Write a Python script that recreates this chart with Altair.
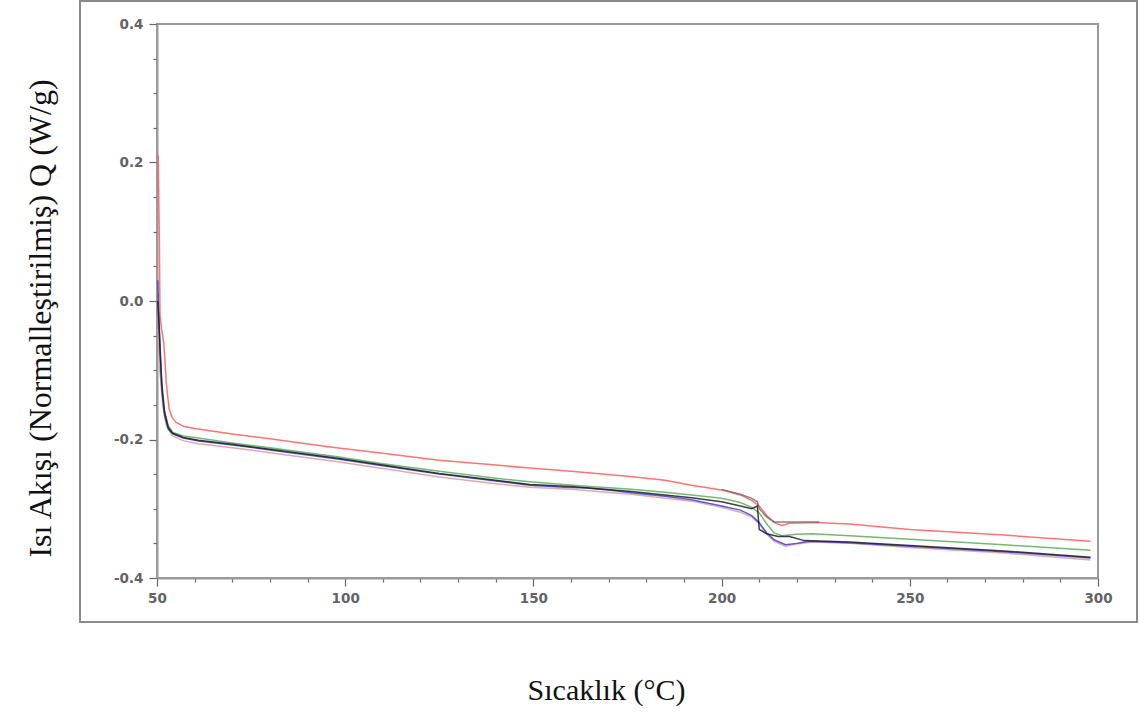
import altair as alt
import pandas as pd

# ---- data (Temperature °C, heat flow W/g) ----
red_x = [50.3, 50.6, 50.8, 51.2, 51.8, 52.5, 53.2, 54, 55, 57, 60, 70, 80, 96, 110, 125, 140, 149, 160, 175, 185, 192, 200, 205, 208, 210, 212, 214, 216, 218, 225, 234, 250, 275, 298]
red_y = [0.21, 0.10, -0.02, -0.04, -0.06, -0.12, -0.155, -0.168, -0.175, -0.181, -0.184, -0.192, -0.199, -0.211, -0.220, -0.230, -0.237, -0.241, -0.246, -0.253, -0.259, -0.266, -0.273, -0.280, -0.288, -0.296, -0.310, -0.320, -0.324, -0.321, -0.320, -0.322, -0.330, -0.338, -0.347]

green_x = [50.2, 50.5, 50.8, 51.3, 52, 53, 54.2, 57, 61, 70, 80, 98, 110, 125, 140, 149, 158, 165, 176, 185, 192, 200, 205, 208, 210, 212, 214, 216, 220, 224, 234, 250, 275, 298]
green_y = [0.01, -0.04, -0.096, -0.13, -0.159, -0.18, -0.19, -0.195, -0.198, -0.205, -0.212, -0.225, -0.235, -0.246, -0.256, -0.261, -0.265, -0.268, -0.272, -0.276, -0.280, -0.285, -0.291, -0.298, -0.306, -0.322, -0.335, -0.339, -0.337, -0.336, -0.339, -0.344, -0.352, -0.360]

blue_x = [50.2, 50.4, 50.7, 51.3, 52, 53, 54.2, 57, 61, 70, 80, 98, 110, 125, 140, 149, 155, 158, 164, 170, 176, 185, 192, 200, 205, 208, 210, 212, 214, 217, 220, 223, 234, 250, 275, 298]
blue_y = [0.03, -0.01, -0.05, -0.13, -0.165, -0.185, -0.192, -0.198, -0.202, -0.208, -0.215, -0.228, -0.238, -0.250, -0.260, -0.266, -0.268, -0.269, -0.270, -0.273, -0.277, -0.282, -0.287, -0.296, -0.302, -0.310, -0.320, -0.335, -0.345, -0.352, -0.350, -0.347, -0.349, -0.354, -0.362, -0.371]

pink_x = [50.3, 50.8, 51.5, 52.5, 54, 57, 61, 70, 80, 98, 110, 125, 140, 149, 160, 176, 192, 200, 205, 208, 210, 212, 214, 217, 220, 224, 234, 250, 275, 298]
pink_y = [-0.04, -0.10, -0.15, -0.18, -0.194, -0.202, -0.206, -0.212, -0.219, -0.232, -0.242, -0.254, -0.264, -0.269, -0.272, -0.279, -0.289, -0.298, -0.305, -0.312, -0.322, -0.337, -0.347, -0.354, -0.351, -0.348, -0.350, -0.356, -0.364, -0.374]

black_x = [50.2, 50.5, 50.8, 51.3, 52, 53, 54.2, 57, 61, 70, 80, 98, 125, 149, 160, 176, 192, 200, 205, 208, 209.5, 210, 212, 215, 218, 222, 234, 250, 275, 298]
black_y = [0.0, -0.03, -0.07, -0.12, -0.16, -0.183, -0.191, -0.197, -0.201, -0.207, -0.214, -0.227, -0.249, -0.265, -0.268, -0.275, -0.284, -0.290, -0.296, -0.300, -0.296, -0.330, -0.336, -0.340, -0.340, -0.346, -0.348, -0.353, -0.361, -0.370]

gray_x = [200, 205, 208, 209.5, 210, 212, 214, 220, 226]
gray_y = [-0.272, -0.279, -0.285, -0.290, -0.300, -0.312, -0.319, -0.319, -0.319]

x_major = [50, 100, 150, 200, 250, 300]
x_minor = [60, 70, 80, 90, 110, 120, 130, 140, 160, 170, 180, 190, 210, 220, 230, 240, 260, 270, 280, 290]
y_major = [-0.4, -0.2, 0.0, 0.2, 0.4]
y_minor = [-0.35, -0.3, -0.25, -0.15, -0.1, -0.05, 0.05, 0.1, 0.15, 0.25, 0.3, 0.35]

x_title = "Sıcaklık (°C)"
y_title = "Isı Akışı (Normalleştirilmiş) Q (W/g)"

series = [
    ("red", red_x, red_y, "#ff5a5a"),
    ("green", green_x, green_y, "#5aad5a"),
    ("pink", pink_x, pink_y, "#d99c9c"),
    ("blue", blue_x, blue_y, "#3c3cdc"),
    ("black", black_x, black_y, "#1e1e1e"),
    ("gray", gray_x, gray_y, "#707070"),
]

W, H = 941, 554
xs = alt.Scale(domain=[50, 300], nice=False, zero=False)
ys = alt.Scale(domain=[-0.4, 0.4], nice=False, zero=False)

lab = dict(labelFont="DejaVu Sans", labelFontWeight="bold", labelFontSize=13.5,
           labelColor="#636363", labelFlush=False, labelOverlap=False,
           domainColor="#9a9a9a", domainWidth=2,
           tickColor="#666666", tickWidth=1.2, grid=False)

x_axis = alt.Axis(values=x_major, format="d", tickSize=8, labelPadding=5, orient="bottom",
                  title=x_title, titleFont="Liberation Serif", titleFontSize=30,
                  titleFontWeight="normal", titleColor="#111111",
                  titleX=449, titleY=112, titleAlign="center", titleBaseline="middle", **lab)
y_axis = alt.Axis(values=y_major, tickSize=8, labelPadding=6, orient="left",
                  labelExpr="replace(format(datum.value, '.1f'), '\u2212', '-')",
                  title=y_title, titleFont="Liberation Serif", titleFontSize=32,
                  titleFontWeight="normal", titleColor="#111111", titleAngle=270,
                  titleX=-117, titleY=294, titleAlign="center", titleBaseline="middle", **lab)

x_minor_axis = alt.Axis(values=x_minor, labels=False, tickSize=4, domain=False, title=None,
                        orient="bottom", tickColor="#666666", tickWidth=1.2, grid=False)
y_minor_axis = alt.Axis(values=y_minor, labels=False, tickSize=4, domain=False, title=None,
                        orient="left", tickColor="#666666", tickWidth=1.2, grid=False)

layers = []
for i, (name, xv, yv, col) in enumerate(series):
    df = pd.DataFrame({"T": xv, "Q": yv})
    ax = x_axis if i == 0 else None
    ay = y_axis if i == 0 else None
    layers.append(
        alt.Chart(df).mark_line(strokeWidth=1.5, opacity=0.85).encode(
            x=alt.X("T:Q", scale=xs, axis=ax),
            y=alt.Y("Q:Q", scale=ys, axis=ay),
            color=alt.value(col),
        )
    )

minor = alt.Chart(pd.DataFrame({"T": red_x, "Q": red_y})).mark_line(opacity=0).encode(
    x=alt.X("T:Q", scale=xs, axis=x_minor_axis),
    y=alt.Y("Q:Q", scale=ys, axis=y_minor_axis),
)

frame = alt.Chart(alt.Data(values=[{"a": 1}])).mark_rect(
    filled=False, stroke="#8a8a8a", strokeWidth=2
).encode(
    x=alt.value(-77), x2=alt.value(980), y=alt.value(-23), y2=alt.value(598)
)

chart = alt.layer(frame, minor, *layers).resolve_axis(
    x="independent", y="independent"
).properties(
    width=W, height=H,
    autosize=alt.AutoSizeParams(type="none"),
    padding={"left": 157, "top": 24, "right": 42, "bottom": 135},
    background="white",
).configure_view(stroke="#9a9a9a", strokeWidth=2)

chart.save("out.html", embed_options={"renderer": "svg", "actions": False})
